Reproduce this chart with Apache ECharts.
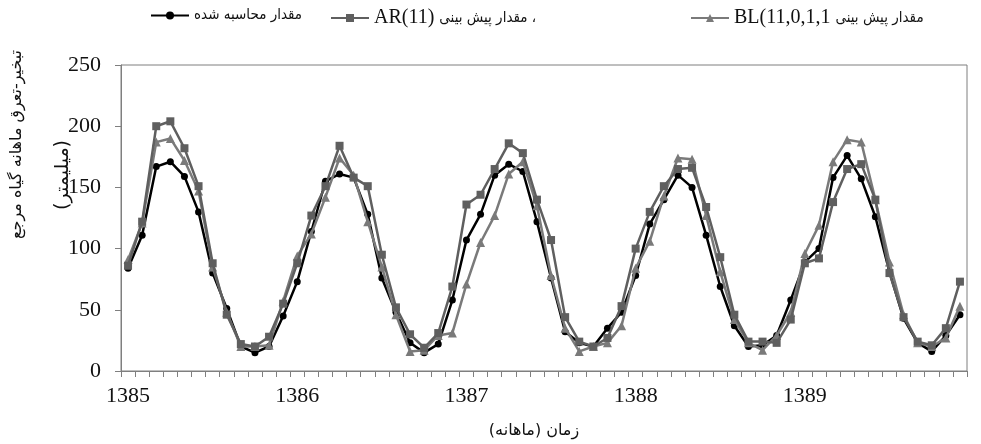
<!DOCTYPE html>
<html>
<head>
<meta charset="utf-8">
<script src="https://cdn.jsdelivr.net/npm/echarts@6/dist/echarts.min.js"></script>
<style>
html,body{margin:0;padding:0;background:#fff;}
#c{width:981px;height:444px;}
</style>
</head>
<body>
<div id="c"></div>
<script>
var years = ['1385','1386','1387','1388','1389'];
var monthsPerYear = 12;
var yTicks = [0, 50, 100, 150, 200, 250];

var calcName = 'مقدار محاسبه شده';
var arName = 'مقدار پیش بینی (AR(11)';
var blName = 'مقدار پیش بینی (BL(11,0,1,1)';

var calcValues = [84,111,167,171,159,130,80,51,20,15,20,45,
  73,114,155,161,158,128,76,48,23,15,22,58,
  107,128,160,169,163,122,76,32,23,20,35,48,
  78,120,140,160,150,111,69,37,20,21,29,58,
  89,100,158,176,157,126,81,43,23,16,29,46];
var arValues = [86,122,200,204,182,151,88,46,22,20,28,55,
  88,127,151,184,158,151,95,52,30,19,31,69,
  136,144,165,186,178,140,107,44,24,20,27,53,
  100,130,151,165,166,134,93,46,24,24,23,42,
  88,92,138,165,169,140,80,44,24,21,35,73];
var blValues = [91,121,187,190,172,147,85,48,20,20,21,57,
  94,112,142,174,160,122,85,46,16,17,29,31,
  71,105,127,161,171,135,78,35,16,20,23,37,
  84,106,143,174,173,127,81,42,23,17,29,48,
  96,119,171,189,187,140,89,46,23,20,27,53];

var categories = [];
years.forEach(function(y){ for (var m = 1; m <= monthsPerYear; m++) categories.push(y + '-' + m); });

var chart = echarts.init(document.getElementById('c'), null, {renderer:'canvas'});
var serif = 'Liberation Serif, DejaVu Serif, serif';
var richStyles = {
  p: {fontFamily: 'DejaVu Sans Condensed, DejaVu Sans', fontSize: 15, color: '#111'},
  l: {fontFamily: 'Liberation Serif', fontSize: 20, color: '#111', padding: [0, 5, 0, 0]}
};
// visual (left-to-right) arrangement of each right-to-left legend label
var legendLabels = {};
legendLabels[calcName] = '{p|مقدار محاسبه شده}';
legendLabels[arName] = '{l|AR(11)}{p|مقدار پیش بینی ،}';
legendLabels[blName] = '{l|BL(11,0,1,1}{p|مقدار پیش بینی}';

function legendItem(name, left) {
  return {
    show: true, data: [name], top: 8, left: left, orient: 'horizontal',
    itemWidth: 38, itemHeight: 10, itemGap: 4, padding: 0,
    formatter: function(n){ return legendLabels[n]; },
    textStyle: {rich: richStyles, fontSize: 15, color: '#111'}
  };
}

chart.setOption({
  animation: false,
  backgroundColor: '#fff',
  legend: [
    legendItem(calcName, 150),
    legendItem(arName, 330),
    legendItem(blName, 690)
  ],
  grid: {left: 121, right: 14, top: 65, bottom: 71, show: true, borderColor: '#7f7f7f', borderWidth: 1, containLabel: false},
  xAxis: {
    type: 'category', data: categories, boundaryGap: true,
    axisLine: {lineStyle: {color: '#7f7f7f', width: 1}},
    axisTick: {show: true, interval: 0, length: 6, inside: false, lineStyle: {color: '#7f7f7f'}},
    axisLabel: {interval: monthsPerYear - 1, margin: 14, fontFamily: serif, fontSize: 22, color: '#111',
      formatter: function(v, i){ return years[Math.floor(i / monthsPerYear)]; }},
    splitLine: {show: false},
    name: 'زمان (ماهانه)', nameLocation: 'middle', nameGap: 52, nameTextAlign: 'center',
    nameTextStyle: {fontFamily: 'DejaVu Sans', fontSize: 16, color: '#111', padding: [0, 20, 0, 0]}
  },
  yAxis: {
    type: 'value', min: yTicks[0], max: yTicks[yTicks.length - 1], interval: 50,
    axisLine: {show: true, lineStyle: {color: '#7f7f7f', width: 1}},
    axisTick: {show: true, length: 6, inside: false, lineStyle: {color: '#7f7f7f'}},
    axisLabel: {margin: 20, fontFamily: serif, fontSize: 22, color: '#111'},
    splitLine: {show: false}
  },
  graphic: [
    {type: 'text', left: 9, top: 50, rotation: Math.PI / 2, z: 10,
      style: {text: 'تبخیر-تعرق ماهانه گیاه مرجع', font: '16px "DejaVu Sans"', fill: '#111'}},
    {type: 'text', left: 54, top: 140, rotation: Math.PI / 2, z: 10,
      style: {text: '(میلیمتر)', font: '19px "DejaVu Sans"', fill: '#111'}}
  ],
  series: [
    {name: calcName, type: 'line', data: calcValues, z: 3,
      symbol: 'circle', symbolSize: 7, showAllSymbol: true,
      lineStyle: {color: '#000', width: 2.5}, itemStyle: {color: '#000'}},
    {name: blName, type: 'line', data: blValues, z: 4,
      symbol: 'triangle', symbolSize: 9, showAllSymbol: true,
      lineStyle: {color: '#7a7a7a', width: 2.5}, itemStyle: {color: '#7a7a7a'}},
    {name: arName, type: 'line', data: arValues, z: 5,
      symbol: 'rect', symbolSize: 8, showAllSymbol: true,
      lineStyle: {color: '#5f5f5f', width: 2.5}, itemStyle: {color: '#5f5f5f'}}
  ]
});
</script>
</body>
</html>
